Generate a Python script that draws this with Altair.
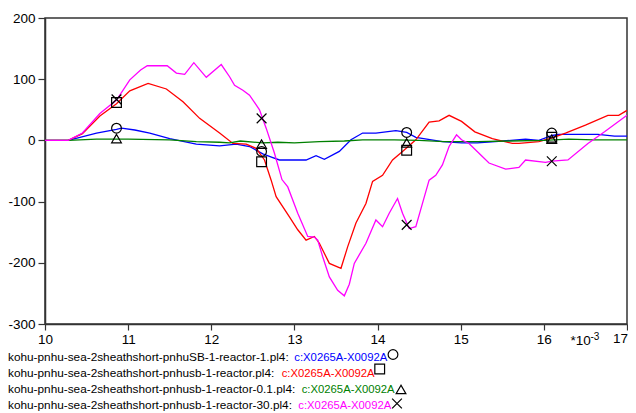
import altair as alt
import pandas as pd

# ---------------- data ----------------
series_names = [
    "kohu-pnhu-sea-2sheathshort-pnhuSB-1-reactor-1.pl4:",
    "kohu-pnhu-sea-2sheathshort-pnhusb-1-reactor.pl4:",
    "kohu-pnhu-sea-2sheathshort-pnhusb-1-reactor-0.1.pl4:",
    "kohu-pnhu-sea-2sheathshort-pnhusb-1-reactor-30.pl4:",
]
signal_label = "c:X0265A-X0092A"
series_keys = ["sb1", "reactor", "r01", "r30"]
series_colors = ["#0000ff", "#ff0000", "#008000", "#ff00ff"]

b_x = [10.0, 10.28, 10.62, 10.86, 10.92, 11.08, 11.26, 11.50, 11.82, 12.10, 12.30, 12.46, 12.62, 12.74,
       12.82, 13.14, 13.26, 13.36, 13.54, 13.68, 13.82, 13.98, 14.22, 14.35, 14.46, 14.78, 15.01, 15.20,
       15.50, 15.78, 15.94, 16.10, 16.18, 16.65, 16.85, 17.0]
b_y = [0, 0, 12, 18, 20, 17, 12, 3, -6, -9, -6, -10, -22, -28,
       -32, -32, -25, -31, -18, 1, 12, 12, 16, 13, 5, -2, -4, -4,
       -1, 2, 0, 8, 10, 10, 7, 7]

r_x = [10.0, 10.28, 10.45, 10.66, 10.86, 11.02, 11.24, 11.46, 11.66, 11.86, 12.10, 12.26, 12.42, 12.54,
       12.64, 12.72, 12.78, 12.94, 13.04, 13.14, 13.24, 13.30, 13.42, 13.56, 13.64, 13.74, 13.86, 13.94,
       14.06, 14.18, 14.30, 14.46, 14.62, 14.74, 14.86, 15.01, 15.17, 15.38, 15.62, 15.70, 15.94, 16.10,
       16.26, 16.50, 16.77, 16.90, 17.0]
r_y = [0, 0, 11, 40, 60, 81, 93, 84, 63, 36, 12, -5, -6, -13,
       -32, -65, -92, -125, -146, -163, -157, -168, -201, -209, -174, -135, -103, -67,
       -57, -32, -18, 1, 30, 32, 41, 31, 14, 3, -5, -5, -2, 4,
       12, 25, 41, 41, 49]

g_x = [10.0, 10.28, 10.62, 11.0, 11.5, 11.82, 12.10, 12.22, 12.35, 12.62, 12.80, 13.0, 13.3, 13.6,
       13.82, 14.2, 14.5, 14.8, 15.2, 15.6, 16.0, 16.3, 16.6, 17.0]
g_y = [0, 0, 2, 2, 1, -2, -3, -4, -1, -4, -3, -4, -2, -1,
       1, 1, 0, -2, -2, -1, 0, 2, 1, 1]

m_x = [10.0, 10.28, 10.45, 10.66, 10.86, 11.02, 11.15, 11.23, 11.47, 11.58, 11.68, 11.79, 11.94, 12.12,
       12.22, 12.28, 12.38, 12.46, 12.58, 12.66, 12.76, 12.85, 12.92, 13.04, 13.16, 13.24, 13.28, 13.34,
       13.42, 13.52, 13.60, 13.66, 13.72, 13.86, 13.98, 14.06, 14.14, 14.24, 14.30, 14.38, 14.46, 14.54,
       14.62, 14.70, 14.78, 14.86, 14.95, 15.01, 15.10, 15.22, 15.34, 15.54, 15.70, 15.78, 16.02, 16.10,
       16.29, 16.53, 16.73, 17.0]
m_y = [0, 0, 12, 44, 66, 99, 115, 122, 122, 110, 108, 127, 103, 124,
       104, 90, 82, 74, 50, 20, -21, -64, -76, -119, -157, -158, -163, -190,
       -223, -245, -254, -235, -201, -168, -130, -141, -119, -95, -119, -144, -141, -103,
       -65, -57, -40, -10, 9, 1, -5, -21, -37, -47, -44, -32, -36, -34,
       -32, -5, 14, 41]

marker_x = [10.86, 12.605, 14.35, 16.095]
marker_circle_y = [20, -18, 13, 12]
marker_square_y = [62, -35, -16, 5]
marker_triangle_y = [3, -6, -4, 2]
marker_cross_y = [67, 36, -138, -34]

x_ticks = [10, 11, 12, 13, 14, 15, 16, 17]
y_ticks = [-300, -250, -200, -150, -100, -50, 0, 50, 100, 150, 200]

# ---------------- build tables ----------------
rows = []
for key, xs, ys in zip(series_keys, [b_x, r_x, g_x, m_x], [b_y, r_y, g_y, m_y]):
    for i, (xv, yv) in enumerate(zip(xs, ys)):
        rows.append({"series": key, "x": xv, "y": yv, "order": i})
lines_df = pd.DataFrame(rows)

cross_path = "M-1,-1L1,1M-1,1L1,-1"
marker_shapes = ["circle", "square", "triangle-up", cross_path]
mrows = []
for key, ys in zip(series_keys, [marker_circle_y, marker_square_y, marker_triangle_y, marker_cross_y]):
    for xv, yv in zip(marker_x, ys):
        mrows.append({"series": key, "x": xv, "y": yv})
markers_df = pd.DataFrame(mrows)

FONT = "Liberation Sans"
W, H = 582, 306
last_tick = x_ticks[-1]

xscale = alt.Scale(domain=[10, 17], nice=False, zero=False)
yscale = alt.Scale(domain=[-300, 200], nice=False, zero=False)

xaxis = alt.Axis(values=x_ticks, title=None, grid=False, tickSize=6, labelPadding=2,
                 labelFontSize=13.5, labelFont=FONT, labelColor="#000", domainColor="#333",
                 tickColor="#333", domainWidth=1.5, tickWidth=1.2, labelFlush=False, labelOverlap=False,
                 labelExpr=f"datum.value === {last_tick} ? '' : '' + datum.value")
yaxis = alt.Axis(values=y_ticks, title=None, grid=False, tickSize=7, labelPadding=3,
                 labelFontSize=13.5, labelFont=FONT, labelColor="#000", domainColor="#333",
                 tickColor="#333", domainWidth=1.5, tickWidth=1.2, labelFlush=False, labelOverlap=False,
                 labelExpr="datum.value % 100 === 0 ? '' + datum.value : ''")

lines = alt.Chart(lines_df).mark_line(strokeWidth=1.3, clip=True).encode(
    x=alt.X("x:Q", scale=xscale, axis=xaxis),
    y=alt.Y("y:Q", scale=yscale, axis=yaxis),
    color=alt.Color("series:N", scale=alt.Scale(domain=series_keys, range=series_colors), legend=None),
    order="order:Q",
    detail="series:N",
)

markers = alt.Chart(markers_df).mark_point(filled=False, color="black", strokeWidth=1.2, size=95, opacity=1).encode(
    x=alt.X("x:Q", scale=xscale),
    y=alt.Y("y:Q", scale=yscale),
    shape=alt.Shape("series:N", scale=alt.Scale(domain=series_keys, range=marker_shapes), legend=None),
)

layers = [lines, markers]

# last x tick label, kept inside the page edge
layers.append(alt.Chart(pd.DataFrame({"t": [str(last_tick)]})).mark_text(
    align="right", baseline="top", font=FONT, fontSize=13.5, color="black").encode(
    text="t:N", x=alt.value(W + 1), y=alt.value(H + 8)))

# exponent label
layers.append(alt.Chart(pd.DataFrame({"t": ["*10"]})).mark_text(
    align="left", baseline="alphabetic", font=FONT, fontSize=13.5, color="black").encode(
    text="t:N", x=alt.value(525.5), y=alt.value(327)))
layers.append(alt.Chart(pd.DataFrame({"t": ["-3"]})).mark_text(
    align="left", baseline="alphabetic", font=FONT, fontSize=10, color="black").encode(
    text="t:N", x=alt.value(545.5), y=alt.value(322)))

# legend rows
leg_base = [342.5, 358.5, 374.5, 390.5]
suffix_x = [249.3, 236.7, 256.7, 253.3]
marker_pos = [(348, 336.5), (334.7, 351), (356, 371.5), (352, 385.5)]
for i in range(4):
    layers.append(alt.Chart(pd.DataFrame({"t": [series_names[i]]})).mark_text(
        align="left", baseline="alphabetic", font=FONT, fontSize=11.8, color="black").encode(
        text="t:N", x=alt.value(-37), y=alt.value(leg_base[i])))
    layers.append(alt.Chart(pd.DataFrame({"t": [signal_label]})).mark_text(
        align="left", baseline="alphabetic", font=FONT, fontSize=11.3, color=series_colors[i]).encode(
        text="t:N", x=alt.value(suffix_x[i]), y=alt.value(leg_base[i])))
    layers.append(alt.Chart(pd.DataFrame({"s": [series_keys[i]]})).mark_point(
        filled=False, color="black", strokeWidth=1.2, size=95, opacity=1,
        shape=marker_shapes[i]).encode(
        x=alt.value(marker_pos[i][0]), y=alt.value(marker_pos[i][1])))

chart = alt.layer(*layers).properties(
    width=W, height=H,
    autosize=alt.AutoSizeParams(type="none"),
    padding={"left": 37, "top": 10, "right": 1, "bottom": 88},
    background="white",
).configure_view(stroke="#333", strokeWidth=1.5)

chart.save("out.html", embed_options={"renderer": "svg", "actions": False})
